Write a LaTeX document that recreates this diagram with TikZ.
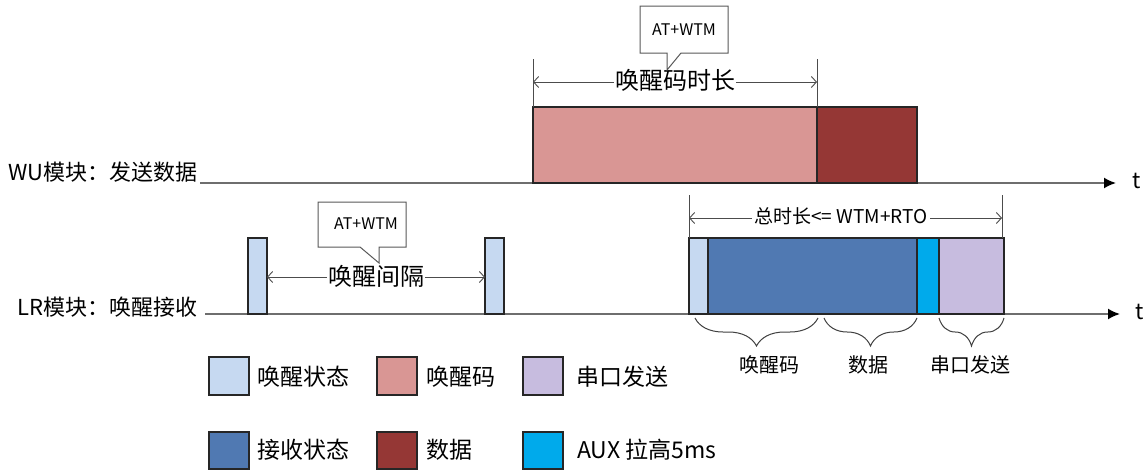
\documentclass[tikz,border=0pt]{standalone}
\usepackage{fontspec}
\newfontfamily\cjk{Noto Sans CJK SC}
\usetikzlibrary{arrows.meta,decorations.pathreplacing}
\definecolor{wakeC}{HTML}{C6D9F1}
\definecolor{codeC}{HTML}{D99694}
\definecolor{dataC}{HTML}{953735}
\definecolor{uartC}{HTML}{C7BCDF}
\definecolor{rxC}{HTML}{5079B2}
\definecolor{auxC}{HTML}{00AAEB}
\definecolor{axisC}{HTML}{6E6E6E}
\tikzset{
  box/.style={draw=black!85, line width=1.2pt},
  axisline/.style={draw=axisC, line width=1.8pt, -{Latex[length=12pt,width=11pt,black]}},
  dimline/.style={draw=black!70, line width=0.9pt, {Straight Barb[length=5pt,width=11pt]}-{Straight Barb[length=5pt,width=11pt]}},
  extline/.style={draw=black!70, line width=0.9pt},
  callout/.style={draw=black!65, fill=white, line width=1pt},
  biglbl/.style={font=\cjk\fontsize{22}{26}\selectfont, inner sep=0pt},
  dimlbl/.style={font=\cjk\fontsize{24}{28}\selectfont, fill=white, inner sep=1pt},
  totlbl/.style={font=\cjk\fontsize{19}{23}\selectfont, fill=white, inner sep=2pt},
  smalllbl/.style={font=\cjk\fontsize{16}{19}\selectfont, inner sep=0pt},
  bracelbl/.style={font=\cjk\fontsize{20}{24}\selectfont, inner sep=0pt},
  leglbl/.style={font=\cjk\fontsize{23}{27}\selectfont, inner sep=0pt, anchor=west},
  tlbl/.style={font=\cjk\fontsize{22}{26}\selectfont, inner sep=0pt},
  bracedeco/.style={draw=black!75, line width=1pt, decorate, decoration={brace, mirror, amplitude=28pt, aspect=0.5}},
}
\begin{document}
\begin{tikzpicture}[x=1pt, y=-1pt]
\useasboundingbox (0,0) rectangle (1144,471);
\fill[white] (0,0) rectangle (1144,471);

% ---------- WU row ----------
\node[biglbl, anchor=east] (wu) at (198,172) {WU模块：发送数据};
\coordinate (wuS) at (200,183);
\coordinate (wuE) at (1116,183);
\draw[axisline] (wuS) -- (wuE);
\node[tlbl] (wut) at (1137,181) {t};

\draw[box, fill=codeC] (533,107) rectangle (817,183);
\draw[box, fill=dataC] (817,107) rectangle (917,183);

\coordinate (d1lt) at (533,59);
\coordinate (d1rt) at (817,59);
\coordinate (d1l) at (533,82);
\coordinate (d1r) at (817,82);
\draw[extline] (d1lt) -- (533,107);
\draw[extline] (d1rt) -- (817,107);
\draw[dimline] (d1l) -- (d1r);
\node[dimlbl] (wudur) at (675,80) {唤醒码时长};
\draw[callout] (640,6) -- (728,6) -- (728,53) -- (681,53) -- (667,70) -- (667,53) -- (640,53) -- cycle;
\node[smalllbl] (c1) at (684,30) {AT+WTM};

% ---------- LR row ----------
\node[biglbl, anchor=east] (lr) at (198,307) {LR模块：唤醒接收};
\coordinate (lrS) at (205,314);
\coordinate (lrE) at (1120,314);
\draw[axisline] (lrS) -- (lrE);
\node[tlbl] (lrt) at (1140,312) {t};

\draw[box, fill=wakeC] (248,238) rectangle (267,314);
\draw[box, fill=wakeC] (485,238) rectangle (504,314);
\coordinate (d2l) at (267,277);
\coordinate (d2r) at (485,277);
\draw[dimline] (d2l) -- (d2r);
\node[dimlbl] (gap) at (376,276) {唤醒间隔};
\draw[callout] (318,202) -- (406,202) -- (406,247) -- (379,247) -- (379,263) -- (360,247) -- (318,247) -- cycle;
\node[smalllbl] (c2) at (366,224) {AT+WTM};

\draw[box, fill=wakeC] (689,238) rectangle (708,314);
\draw[box, fill=rxC] (708,238) rectangle (917,314);
\draw[box, fill=auxC] (917,238) rectangle (939,314);
\draw[box, fill=uartC] (939,238) rectangle (1004,314);

\coordinate (d3lt) at (689,195);
\coordinate (d3rt) at (1002,195);
\coordinate (d3l) at (689,218);
\coordinate (d3r) at (1002,218);
\draw[extline] (d3lt) -- (689,238);
\draw[extline] (d3rt) -- (1002,238);
\draw[dimline] (d3l) -- (d3r);
\node[totlbl] (tot) at (841,216) {总时长<= WTM+RTO};

% braces
\draw[bracedeco] (695,318) -- (818,318);
\draw[bracedeco] (824,318) -- (917,318);
\draw[bracedeco] (939,318) -- (1004,318);
\node[bracelbl] (b1) at (769,365) {唤醒码};
\node[bracelbl] (b2) at (868,365) {数据};
\node[bracelbl] (b3) at (970,365) {串口发送};

% ---------- legend ----------
\draw[box, fill=wakeC] (209,357) rectangle (249,395);
\node[leglbl] (l1) at (257,377) {唤醒状态};
\draw[box, fill=codeC] (377,357) rectangle (417,395);
\node[leglbl] (l2) at (426,377) {唤醒码};
\draw[box, fill=uartC] (523,357) rectangle (563,395);
\node[leglbl] (l3) at (576,377) {串口发送};

\draw[box, fill=rxC] (209,432) rectangle (249,469);
\node[leglbl] (l4) at (257,450) {接收状态};
\draw[box, fill=dataC] (377,432) rectangle (417,469);
\node[leglbl] (l5) at (426,450) {数据};
\draw[box, fill=auxC] (523,432) rectangle (563,469);
\node[leglbl] (l6) at (577,450) {AUX 拉高5ms};
\end{tikzpicture}
\end{document}
